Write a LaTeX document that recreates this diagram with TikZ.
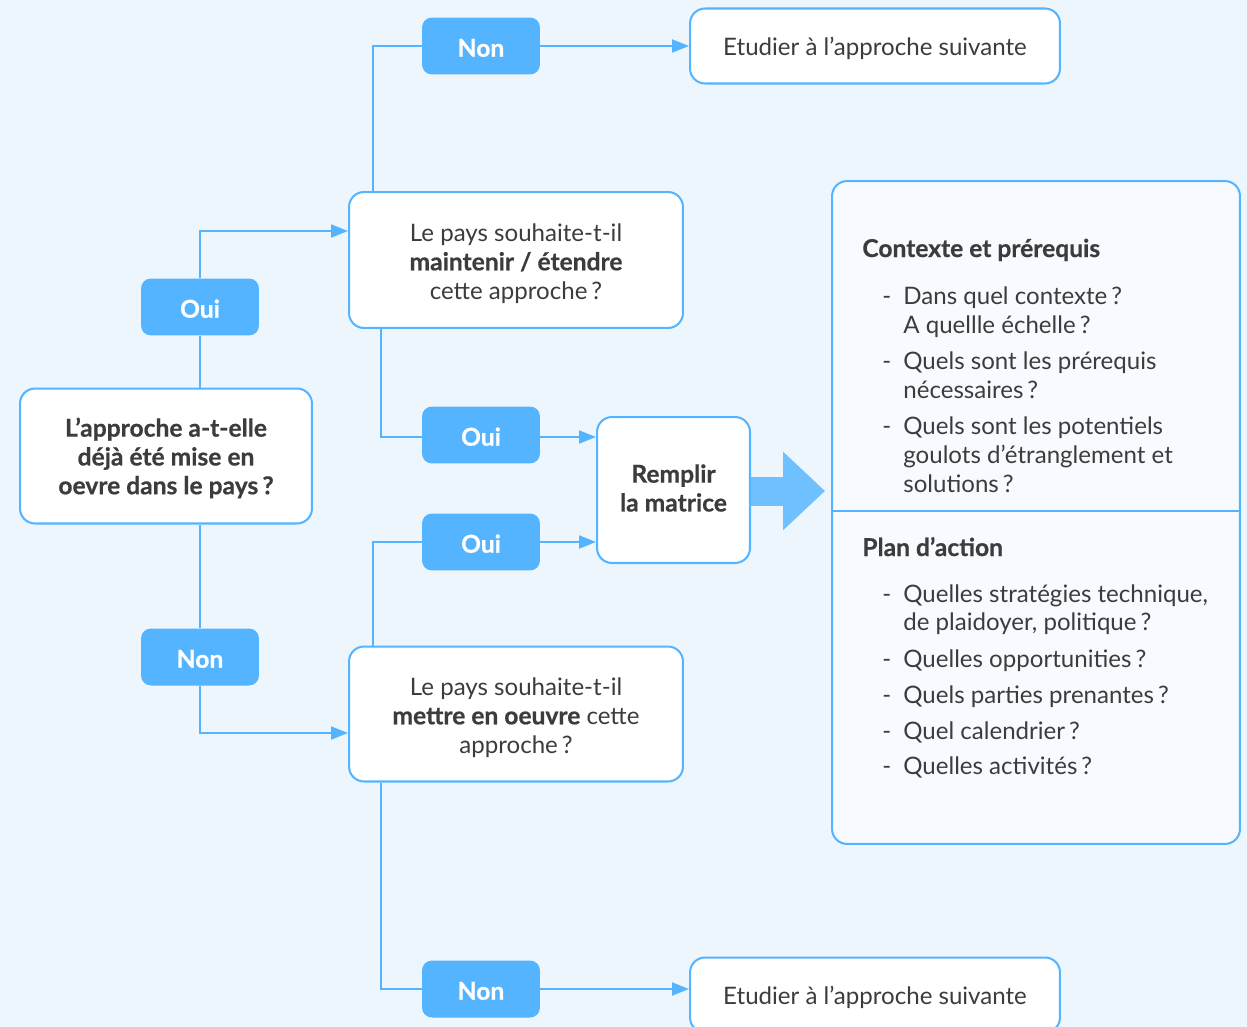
\documentclass[tikz,border=0pt]{standalone}
\usepackage{fontspec}
\setmainfont{Lato}[BoldFeatures={FakeBold=0.6}]
\usetikzlibrary{arrows.meta,calc}
\definecolor{bg}{HTML}{EEF6FD}
\definecolor{acc}{HTML}{55B4FF}
\definecolor{bigarr}{HTML}{6EC0FF}
\definecolor{txt}{HTML}{3C3C3C}
\definecolor{panel}{HTML}{F7FBFF}
\newcommand{\regf}{\fontsize{13.7}{16.4}\selectfont}
\newcommand{\boldf}{\fontsize{14}{16.4}\selectfont\bfseries}
\newcommand{\bx}[1]{{\boldf #1}}
\tikzset{
  pill/.style={fill=acc, rounded corners=0.2cm, minimum width=2.36cm, minimum height=1.14cm,
    text=white, font=\boldf, inner sep=0pt, text height=12.2pt, text depth=0pt},
  qbox/.style={draw=acc, line width=1.15pt, fill=white, rounded corners=0.3cm, inner sep=0pt},
  qtext/.style={text=txt, align=center, font=\regf, inner sep=0pt},
  conn/.style={draw=acc, line width=1.15pt},
  arrow/.style={conn, -{Triangle[length=0.34cm,width=0.26cm]}},
  line/.style={text=txt, font=\regf, anchor=base west, inner sep=0pt},
  head/.style={line, font=\boldf},
}
\begin{document}
\begin{tikzpicture}[x=0.02cm,y=-0.02cm]
\fill[bg] (0,0) rectangle (1247,1027);
\useasboundingbox (0,0) rectangle (1247,1027);

% boxes
\node[qbox, minimum width=5.84cm, minimum height=2.7cm] (q1) at (166,456) {};
\node[qtext, font=\boldf] (q1t) at ($(q1.center)+(0,2)$)
  {L’approche a-t-elle\\déjà été mise en\\oevre dans le pays\,?};
\node[qbox, minimum width=6.68cm, minimum height=2.72cm] (q2) at (516,260) {};
\node[qtext] (q2t) at ($(q2.center)+(0,3.5)$)
  {Le pays souhaite-t-il\\\bx{maintenir / étendre}\\cette approche\,?};
\node[qbox, minimum width=6.68cm, minimum height=2.7cm] (q3) at (516,714) {};
\node[qtext] (q3t) at ($(q3.center)+(0,3.5)$)
  {Le pays souhaite-t-il\\\bx{mettre en oeuvre} cette\\approche\,?};
\node[qbox, minimum width=3.06cm, minimum height=2.92cm] (remplir) at (673.5,490) {};
\node[qtext, font=\boldf] (remplirt) at ($(remplir.center)+(0,-2)$) {Remplir\\la matrice};
\node[qbox, minimum width=7.4cm, minimum height=1.5cm] (etT) at (875,46) {};
\node[qtext] (etTt) at ($(etT.center)+(0,2)$) {Etudier à l’approche suivante};
\node[qbox, minimum width=7.4cm, minimum height=1.5cm] (etB) at (875,995) {};
\node[qtext] (etBt) at ($(etB.center)+(0,2)$) {Etudier à l’approche suivante};
\node[qbox, fill=panel, minimum width=8.16cm, minimum height=13.26cm] (big) at (1036,512.5) {};

% pills
\node[pill] (nonT) at (481,46) {Non};
\node[pill] (ouiL) at (200,307) {Oui};
\node[pill] (ouiM) at (481,435) {Oui};
\node[pill] (ouiB) at (481,542) {Oui};
\node[pill] (nonL) at (200,657) {Non};
\node[pill] (nonB) at (481,989) {Non};

% coordinates on boxes
\coordinate (q2in) at ($(q2.west)+(0,-29)$);
\coordinate (q3in) at ($(q3.west)+(0,19)$);
\coordinate (q2top) at ($(q2.north west)+(25,0)$);
\coordinate (q2bot) at ($(q2.south west)+(33,0)$);
\coordinate (q3top) at ($(q3.north west)+(25,0)$);
\coordinate (q3bot) at ($(q3.south west)+(33,0)$);

% connectors
\draw[conn] (ouiL.south) -- (ouiL.south |- q1.north);
\draw[arrow] (ouiL.north) |- (q2in);
\draw[conn] (nonL.north) -- (nonL.north |- q1.south);
\draw[arrow] (nonL.south) |- (q3in);
\draw[conn] (q2top) |- (nonT.west);
\draw[arrow] (nonT.east) -- (etT.west);
\draw[conn] (q2bot) |- ($(ouiM.west)+(0,2)$);
\draw[arrow] ($(ouiM.east)+(0,2)$) -- ($(ouiM.east -| remplir.west)+(0,2)$);
\draw[conn] (q3top) |- (ouiB.west);
\draw[arrow] (ouiB.east) -- (ouiB.east -| remplir.west);
\draw[conn] (q3bot) |- (nonB.west);
\draw[arrow] (nonB.east) -- (nonB.east -| etB.west);

% big arrow
\draw[bigarr, line width=0.58cm, -{Triangle[length=0.84cm,width=1.52cm]}, shorten >=0.12cm]
  ($(remplir.east)+(0,1)$) -- ($(remplir.east -| big.west)+(0,1)$);

% divider
\draw[conn] ($(big.west)+(0,-1.5)$) -- ($(big.east)+(0,-1.5)$);

% panel text
\node[head] (h1) at (862,257) {Contexte et prérequis};
\node[line] (d1) at (882,304) {-};
\node[line] (t1a) at (903,304) {Dans quel contexte\,?};
\node[line] (t1b) at (903,333) {A quellle échelle\,?};
\node[line] (d2) at (882,369) {-};
\node[line] (t2a) at (903,369) {Quels sont les prérequis};
\node[line] (t2b) at (903,398) {nécessaires\,?};
\node[line] (d3) at (882,434) {-};
\node[line] (t3a) at (903,434) {Quels sont les potentiels};
\node[line] (t3b) at (903,463) {goulots d’étranglement et};
\node[line] (t3c) at (903,492) {solutions\,?};

\node[head] (h2) at (862,556) {Plan d’action};
\node[line] (d4) at (882,602) {-};
\node[line] (t4a) at (903,602) {Quelles stratégies technique,};
\node[line] (t4b) at (903,630) {de plaidoyer, politique\,?};
\node[line] (d5) at (882,667) {-};
\node[line] (t5) at (903,667) {Quelles opportunities\,?};
\node[line] (d6) at (882,703) {-};
\node[line] (t6) at (903,703) {Quels parties prenantes\,?};
\node[line] (d7) at (882,739) {-};
\node[line] (t7) at (903,739) {Quel calendrier\,?};
\node[line] (d8) at (882,774) {-};
\node[line] (t8) at (903,774) {Quelles activités\,?};
\end{tikzpicture}
\end{document}
